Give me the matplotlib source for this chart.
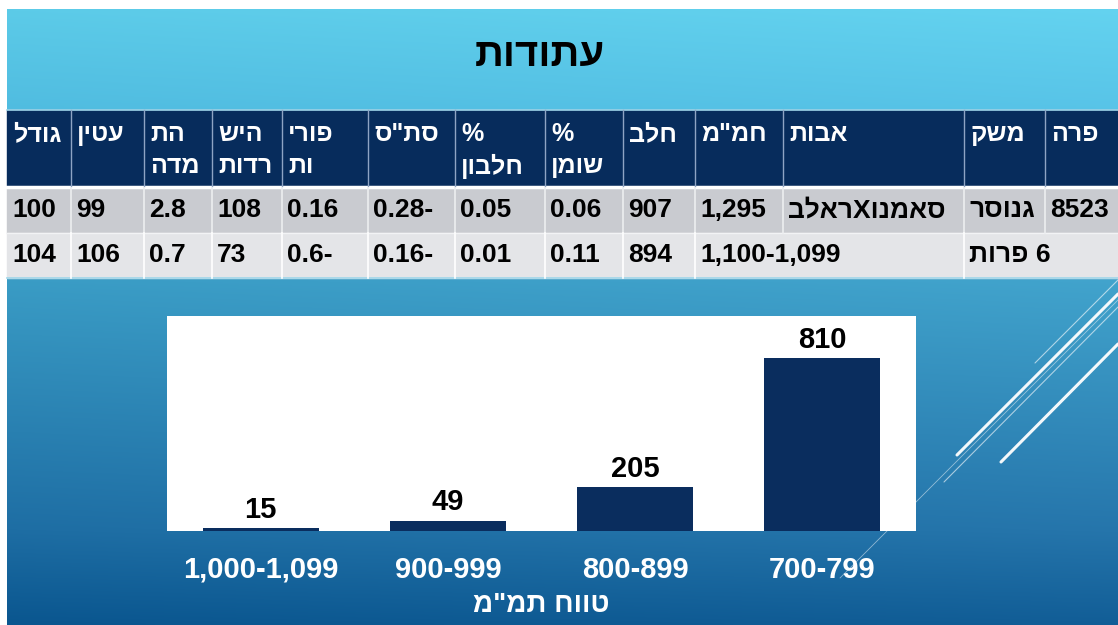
import re
import matplotlib
matplotlib.use("Agg")
import matplotlib.pyplot as plt
import numpy as np
from matplotlib.patches import Rectangle

# --- data (columns listed left to right as they appear on the slide) ---
title = "עתודות"
headers = [["גודל"], ["עטין"], ["הת", "מדה"], ["היש", "רדות"], ["פורי", "ות"],
           ['סת"ס'], ["%", "חלבון"], ["%", "שומן"], ["חלב"], ['חמ"מ'],
           ["אבות"], ["משק"], ["פרה"]]
row_cow = ["100", "99", "2.8", "108", "0.16", "0.28-", "0.05", "0.06", "907",
           "1,295", "סאמנוXראלב", "גנוסר", "8523"]
# None = merged with the cell on its left
row_group = ["104", "106", "0.7", "73", "0.6-", "0.16-", "0.01", "0.11", "894",
             "1,100-1,099", None, "6 פרות", None]

ranges = ["1,000-1,099", "900-999", "800-899", "700-799"]
counts = [15, 49, 205, 810]
xlabel = 'טווח תמ"מ'

HEB = r'[\u0590-\u05FF](?:[\u0590-\u05FF" ]*[\u0590-\u05FF])?'
TOKENS = re.compile(HEB + r'|\s+|[^\s\u0590-\u05FF]+')


def rtl(s):
    # matplotlib has no bidi: lay out a right-to-left line by hand
    parts = TOKENS.findall(s)
    parts = [p[::-1] if re.fullmatch(HEB, p) else p for p in parts]
    return "".join(reversed(parts))


plt.rcParams["font.family"] = ["Liberation Sans", "DejaVu Sans"]

W, H = 1118, 625
fig = plt.figure(figsize=(W / 100, H / 100), dpi=100)
fig.patch.set_facecolor("white")

# full-figure axes in pixel units for the slide background and table
bg = fig.add_axes([0, 0, 1, 1])
bg.set_xlim(0, W)
bg.set_ylim(H, 0)
bg.axis("off")

# background gradient
stops_y = [9, 110, 280, 530, 625]
stops_c = np.array([[92, 203, 232], [80, 188, 224], [58, 156, 197],
                    [30, 110, 164], [10, 86, 143]]) / 255
ys = np.linspace(9, 625, 300)
col = np.stack([np.interp(ys, stops_y, stops_c[:, k]) for k in range(3)], axis=1)
xs = np.linspace(0, 1, 200)
grad = col[:, None, :] + (xs[None, :, None] * 0.03)
bg.imshow(np.clip(grad, 0, 1), extent=[7, W, H, 9], aspect="auto", zorder=0)

bg.text(540, 55, rtl(title), ha="center", va="center", fontsize=29,
        fontweight="bold", color="black", zorder=3)

# table
edges = [7, 71, 144, 212, 282, 368, 455, 545, 623, 695, 783, 964, 1045, 1135]
y_head, y_r1, y_r2, y_end = 110, 188, 233, 278
navy = "#072c5c"

bg.add_patch(Rectangle((7, y_head), W, y_r1 - y_head, color=navy, zorder=1))
bg.add_patch(Rectangle((7, y_r1), W, y_r2 - y_r1, color="#c9cbd0", zorder=1))
bg.add_patch(Rectangle((7, y_r2), W, y_end - y_r2, color="#e4e5e8", zorder=1))
bg.plot([7, W], [y_head, y_head], color="#9fd6ea", lw=1.2, zorder=2)
bg.plot([7, W], [y_r1 - 1, y_r1 - 1], color="white", lw=2.5, zorder=2)
bg.plot([7, W], [y_r2, y_r2], color="#f2f3f5", lw=1, zorder=2)
bg.plot([7, W], [y_end, y_end], color="#9fd6ea", lw=1.2, zorder=2)

for i, x in enumerate(edges[1:-1], start=1):
    bg.plot([x, x], [y_head, y_r1 - 2], color="#8ea4c4", lw=1, zorder=2)
    bg.plot([x, x], [y_r1, y_r2], color="#eceef0", lw=1.2, zorder=2)
    if row_group[i] is not None:
        bg.plot([x, x], [y_r2, y_end], color="white", lw=1.2, zorder=2)

for i, lines in enumerate(headers):
    for j, t in enumerate(lines):
        bg.text(edges[i] + 6, 134 + j * 32, rtl(t), ha="left", va="center",
                fontsize=18, fontweight="bold", color="white", zorder=3)

for i in range(len(row_cow)):
    bg.text(edges[i] + 5, 210, rtl(row_cow[i]), ha="left", va="center",
            fontsize=19, fontweight="bold", color="black", zorder=3)
    if row_group[i] is not None:
        bg.text(edges[i] + 5, 255, rtl(row_group[i]), ha="left", va="center",
                fontsize=19, fontweight="bold", color="black", zorder=3)

# decorative diagonal lines on the right
deco = [((1035, 363), (1118, 280), 0.8, 0.6),
        ((957, 455), (1118, 294), 2.2, 0.95),
        ((944, 482), (1118, 307), 0.8, 0.6),
        ((1001, 462), (1118, 344), 2.2, 0.95),
        ((840, 578), (1118, 300), 0.6, 0.5)]
for (x0, y0), (x1, y1), lw, a in deco:
    bg.plot([x0, x1], [y0, y1], color="white", lw=lw, alpha=a, zorder=1,
            solid_capstyle="round")

# bar chart
ax = fig.add_axes([167 / W, 1 - 531 / H, 749 / W, 215 / H])
ax.set_facecolor("white")
pos = np.arange(len(ranges))
bars = ax.bar(pos, counts, width=0.62, color="#0a2d5e")
ax.bar_label(bars, padding=3, fontsize=21, fontweight="bold")
ax.set_xlim(-0.5, len(ranges) - 0.5)
ax.set_ylim(0, 1005)
ax.set_yticks([])
ax.set_xticks(pos)
ax.set_xticklabels(ranges, fontsize=21, fontweight="bold", color="white")
ax.tick_params(axis="x", length=0, pad=18)
for s in ax.spines.values():
    s.set_visible(False)
ax.set_xlabel(rtl(xlabel), fontsize=20, fontweight="bold", color="white",
              labelpad=6)

fig.savefig("out.png", dpi=100)
